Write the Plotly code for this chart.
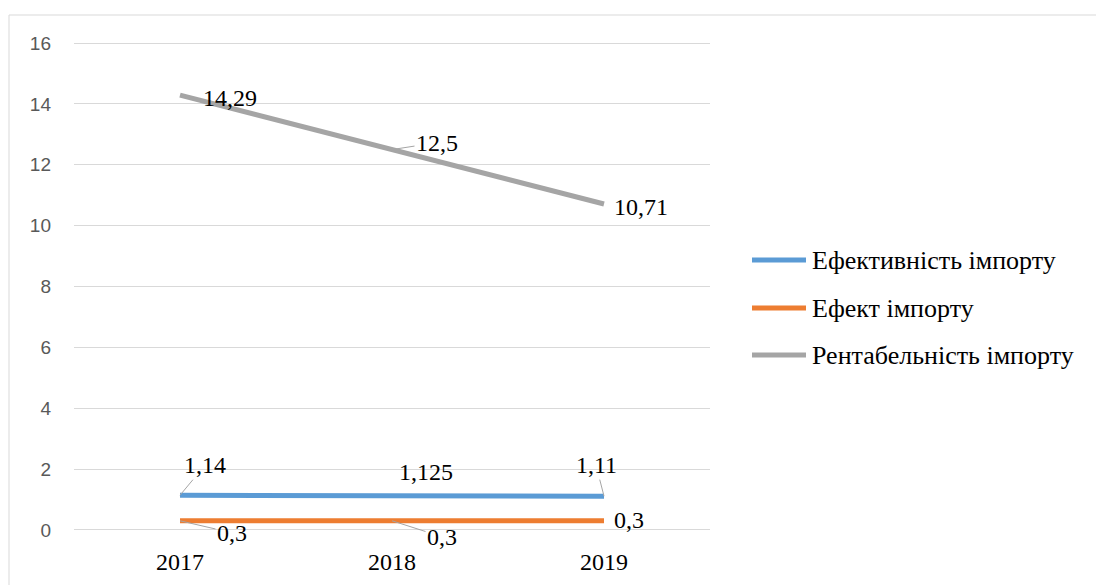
import plotly.graph_objects as go

years = ["2017", "2018", "2019"]
efficiency = [1.14, 1.125, 1.11]
effect = [0.3, 0.3, 0.3]
profitability = [14.29, 12.5, 10.71]
y_ticks = [0, 2, 4, 6, 8, 10, 12, 14, 16]

names = ["Ефективність імпорту", "Ефект імпорту", "Рентабельність імпорту"]
colors = ["#5B9BD5", "#ED7D31", "#A5A5A5"]
series = [efficiency, effect, profitability]

fig = go.Figure()
for n, c, s in zip(names, colors, series):
    fig.add_trace(go.Scatter(x=years, y=s, name=n, mode="lines",
                             line=dict(color=c, width=5), showlegend=False))

def fmt(v):
    return str(v).replace(".", ",")

serif = "Liberation Serif, Times New Roman, serif"
# (series, index, ax, ay, arrow)
label_specs = [
    (profitability, 0, 50, 3, False),
    (profitability, 1, 45, -7, True),
    (profitability, 2, 37, 3, False),
    (efficiency, 0, 25, -30, True),
    (efficiency, 1, 34, -24, False),
    (efficiency, 2, -8, -31, True),
    (effect, 0, 52, 12, True),
    (effect, 1, 50, 16, True),
    (effect, 2, 25, -1, False),
]
for s, i, ax, ay, arrow in label_specs:
    if arrow:
        fig.add_annotation(x=i, y=s[i], text=fmt(s[i]), showarrow=True,
                           arrowhead=0, arrowwidth=1, arrowcolor="#A5A5A5",
                           ax=ax, ay=ay, font=dict(family=serif, size=24, color="#000"))
    else:
        fig.add_annotation(x=i, y=s[i], text=fmt(s[i]), showarrow=False,
                           xshift=ax, yshift=-ay, font=dict(family=serif, size=24, color="#000"))

# pixel -> paper helpers for the layout (plot area: x 74..710, y 37..536)
def px(x):
    return (x - 74) / 636

def py(y):
    return (536 - y) / 499

# chart-area outline (top and left visible)
fig.add_shape(type="rect", xref="paper", yref="paper",
              x0=px(9), x1=px(1110), y0=py(600), y1=py(15),
              line=dict(color="#D9D9D9", width=1), layer="below")

# custom legend (longer line samples, like the reference)
legend_rows = [260, 308, 355]
for n, c, row in zip(names, colors, legend_rows):
    fig.add_shape(type="line", xref="paper", yref="paper",
                  x0=px(752), x1=px(806), y0=py(row), y1=py(row),
                  line=dict(color=c, width=5))
    fig.add_annotation(xref="paper", yref="paper", x=px(810), y=py(row),
                       xanchor="left", yanchor="middle", showarrow=False, text=n,
                       font=dict(family=serif, size=26, color="#000"))

fig.update_layout(
    width=1096, height=585,
    margin=dict(l=74, r=386, t=37, b=49, autoexpand=False),
    plot_bgcolor="white", paper_bgcolor="white",
    showlegend=False,
)
fig.update_xaxes(type="category", range=[-0.5, 2.5], showgrid=False, showline=False,
                 zeroline=False, ticks="", automargin=False,
                 tickfont=dict(family=serif, size=24, color="#000"),
                 ticklabelstandoff=9)
fig.update_yaxes(range=[-0.2, 16.2], tickvals=y_ticks, showgrid=True, gridcolor="#D9D9D9",
                 gridwidth=1, zeroline=False, showline=False, ticks="", automargin=False,
                 tickfont=dict(family="Liberation Sans", size=19, color="#595959"),
                 ticklabelstandoff=22)

fig.write_html("out.html", config={"displayModeBar": False},
               post_script="document.body.style.margin='0';")
